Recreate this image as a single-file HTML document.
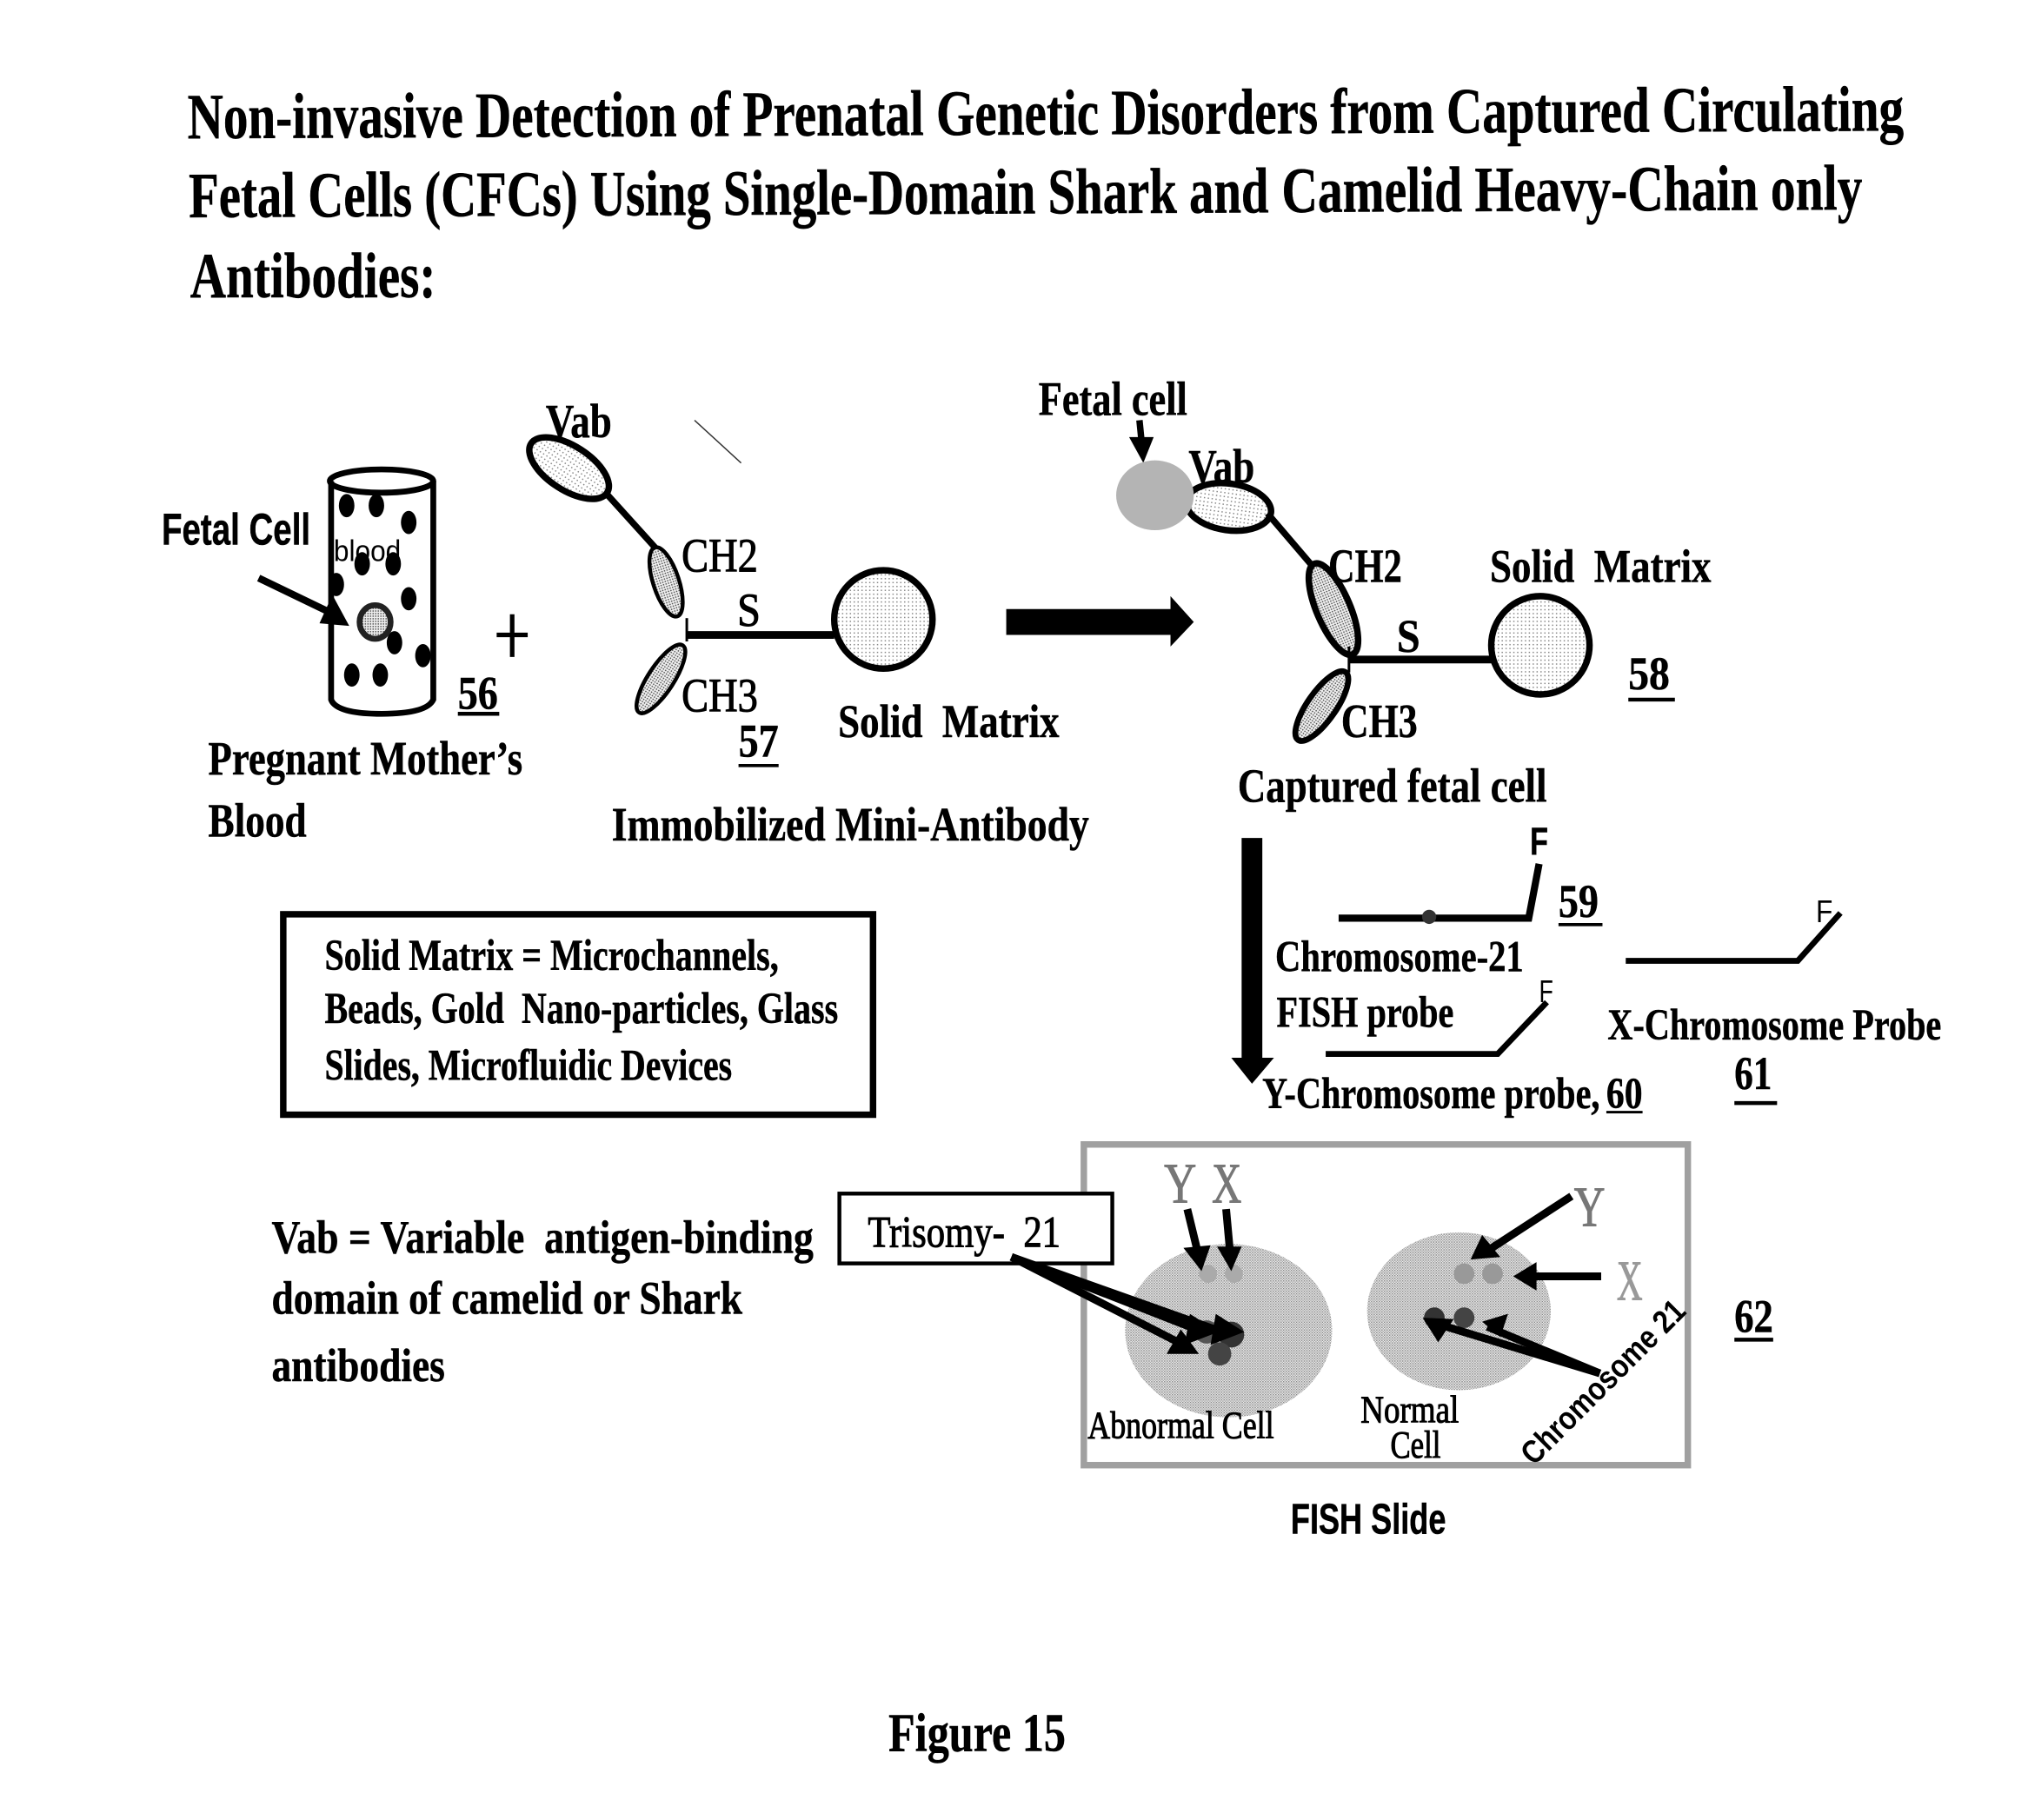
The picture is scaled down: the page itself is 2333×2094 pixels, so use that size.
<!DOCTYPE html>
<html><head><meta charset="utf-8"><style>
html,body{margin:0;padding:0;background:#fff;width:2333px;height:2094px;overflow:hidden}
svg{display:block}
text{font-family:"Liberation Serif",serif;font-weight:bold;fill:#000;stroke:#000;stroke-width:0.35px}
.s{font-family:"Liberation Sans",sans-serif;}
.r{font-weight:normal;stroke-width:0.7px}
</style></head><body>
<svg width="2333" height="2094" viewBox="0 0 1568 1407.4" xmlns="http://www.w3.org/2000/svg">
<defs>
<pattern id="l" width="3" height="3" patternUnits="userSpaceOnUse"><rect width="3" height="3" fill="#fff"/><rect width="1" height="1" fill="#888"/></pattern>
<pattern id="m" width="2" height="2" patternUnits="userSpaceOnUse"><rect width="2" height="2" fill="#eee"/><rect width="1" height="1" fill="#555"/></pattern>
<pattern id="d" width="2" height="2" patternUnits="userSpaceOnUse"><rect width="2" height="2" fill="#eee"/><rect width="1" height="1" fill="#888"/><rect x="1" y="1" width="1" height="1" fill="#aaa"/></pattern>
</defs>
<rect width="1568" height="1408" fill="#fff"/>

<!-- Title -->
<text x="145" y="107" font-size="50" textLength="1327" lengthAdjust="spacingAndGlyphs" transform="rotate(-0.26 145 107)">Non-invasive Detection of Prenatal Genetic Disorders from Captured Circulating</text>
<text x="146" y="168" font-size="50" textLength="835" lengthAdjust="spacingAndGlyphs" transform="rotate(-0.26 146 168)">Fetal Cells (CFCs) Using Single-Domain Shark and</text>
<text x="991" y="164" font-size="50" textLength="449" lengthAdjust="spacingAndGlyphs" transform="rotate(-0.26 991 164)">Camelid Heavy-Chain only</text>
<text x="147" y="230" font-size="50" textLength="190" lengthAdjust="spacingAndGlyphs">Antibodies:</text>

<!-- Blood cylinder -->
<g stroke="#000" stroke-width="4.5" fill="none">
<ellipse cx="295" cy="372" rx="40" ry="9"/>
<path d="M256 372V541Q260 552 295 552T335 541V372"/>
</g>
<g fill="#000">
<ellipse cx="268" cy="391" rx="6" ry="9"/><ellipse cx="291" cy="391" rx="6" ry="9"/><ellipse cx="316" cy="404" rx="6" ry="9"/>
<ellipse cx="280" cy="436" rx="6" ry="9"/><ellipse cx="304" cy="436" rx="6" ry="9"/><ellipse cx="260" cy="452" rx="6" ry="9"/>
<ellipse cx="316" cy="463" rx="6" ry="9"/><ellipse cx="305" cy="497" rx="6" ry="9"/><ellipse cx="327" cy="507" rx="6" ry="9"/>
<ellipse cx="272" cy="522" rx="6" ry="9"/><ellipse cx="294" cy="522" rx="6" ry="9"/>
</g>
<ellipse cx="290" cy="481" rx="12" ry="13" fill="url(#m)" stroke="#222" stroke-width="4.5"/>
<line x1="200" y1="447" x2="254" y2="473" stroke="#000" stroke-width="5.5"/>
<polygon points="270,484 247,482 257,460" fill="#000"/>
<text class="s" x="125" y="421" font-size="34" textLength="115" lengthAdjust="spacingAndGlyphs">Fetal Cell</text>
<text class="s r" style="stroke-width:0" x="258" y="434" font-size="23" textLength="52" lengthAdjust="spacingAndGlyphs">blood</text>
<text x="354" y="548" font-size="36" textLength="31" lengthAdjust="spacingAndGlyphs">56</text>
<line x1="354" y1="552" x2="386" y2="552" stroke="#000" stroke-width="3"/>
<path d="M384 491H408M396 475V508" stroke="#000" stroke-width="3.5" fill="none"/>
<text x="161" y="599" font-size="37" textLength="243" lengthAdjust="spacingAndGlyphs">Pregnant Mother’s</text>
<text x="161" y="647" font-size="37" textLength="76" lengthAdjust="spacingAndGlyphs">Blood</text>

<!-- Mini antibody -->
<line x1="537" y1="325" x2="573" y2="358" stroke="#333" stroke-width="1"/>
<ellipse cx="440" cy="362" rx="35" ry="17" transform="rotate(33 440 362)" fill="url(#l)" stroke="#000" stroke-width="5"/>
<line x1="470" y1="383" x2="508" y2="425" stroke="#000" stroke-width="5"/>
<ellipse cx="515" cy="450" rx="28" ry="10" transform="rotate(72 515 450)" fill="url(#m)" stroke="#000" stroke-width="3"/>
<ellipse cx="511" cy="525" rx="31" ry="10" transform="rotate(-57 511 525)" fill="url(#m)" stroke="#000" stroke-width="3"/>
<line x1="531" y1="478" x2="531" y2="496" stroke="#000" stroke-width="2"/>
<line x1="531" y1="491" x2="645" y2="491" stroke="#000" stroke-width="6"/>
<circle cx="683" cy="479" r="38" fill="url(#l)" stroke="#000" stroke-width="5"/>
<text x="422" y="338" font-size="37" textLength="51" lengthAdjust="spacingAndGlyphs">Vab</text>
<text x="527" y="442" font-size="37" class="r" textLength="59" lengthAdjust="spacingAndGlyphs">CH2</text>
<text x="570" y="484" font-size="36" class="r" textLength="18" lengthAdjust="spacingAndGlyphs">S</text>
<text x="527" y="550" font-size="37" class="r" textLength="59" lengthAdjust="spacingAndGlyphs">CH3</text>
<text x="571" y="585" font-size="36" textLength="31" lengthAdjust="spacingAndGlyphs">57</text>
<line x1="571" y1="592" x2="602" y2="592" stroke="#000" stroke-width="2.5"/>
<text x="648" y="570" font-size="36" textLength="171" lengthAdjust="spacingAndGlyphs" xml:space="preserve">Solid  Matrix</text>
<text x="473" y="650" font-size="37" textLength="369" lengthAdjust="spacingAndGlyphs">Immobilized Mini-Antibody</text>

<!-- Big right arrow -->
<polygon points="778,471 905,471 905,461 923,481 905,500 905,491 778,491" fill="#000"/>

<!-- Captured antibody -->
<text x="803" y="321" font-size="37" textLength="115" lengthAdjust="spacingAndGlyphs">Fetal cell</text>
<line x1="881" y1="325" x2="883" y2="345" stroke="#000" stroke-width="5"/>
<polygon points="873,338 892,338 884,358" fill="#000"/>
<ellipse cx="950" cy="392" rx="33" ry="18" transform="rotate(8 950 392)" fill="url(#l)" stroke="#000" stroke-width="5"/>
<ellipse cx="893" cy="383" rx="30" ry="27" fill="#b4b4b4"/>
<line x1="980" y1="397" x2="1015" y2="438" stroke="#000" stroke-width="5"/>
<ellipse cx="1031" cy="471" rx="38" ry="13" transform="rotate(67 1031 471)" fill="url(#m)" stroke="#000" stroke-width="5"/>
<ellipse cx="1022" cy="546" rx="32" ry="11" transform="rotate(-55 1022 546)" fill="url(#m)" stroke="#000" stroke-width="4.5"/>
<line x1="1043" y1="500" x2="1043" y2="520" stroke="#000" stroke-width="2"/>
<line x1="1043" y1="510" x2="1155" y2="510" stroke="#000" stroke-width="6"/>
<circle cx="1191" cy="499" r="38" fill="url(#l)" stroke="#000" stroke-width="5"/>
<text x="919" y="373" font-size="37" textLength="51" lengthAdjust="spacingAndGlyphs">Vab</text>
<text x="1027" y="450" font-size="37" textLength="57" lengthAdjust="spacingAndGlyphs">CH2</text>
<text x="1080" y="504" font-size="36" textLength="18" lengthAdjust="spacingAndGlyphs">S</text>
<text x="1152" y="450" font-size="36" textLength="171" lengthAdjust="spacingAndGlyphs" xml:space="preserve">Solid  Matrix</text>
<text x="1259" y="533" font-size="36" textLength="32" lengthAdjust="spacingAndGlyphs">58</text>
<line x1="1259" y1="541" x2="1295" y2="541" stroke="#000" stroke-width="3"/>
<text x="1037" y="570" font-size="37" textLength="59" lengthAdjust="spacingAndGlyphs">CH3</text>
<text x="957" y="620" font-size="37" textLength="239" lengthAdjust="spacingAndGlyphs">Captured fetal cell</text>

<!-- Down arrow -->
<polygon points="960,648 976,648 976,818 985,818 968,838 952,818 960,818" fill="#000"/>

<!-- Probes -->
<path d="M1035 710H1182L1190 668" fill="none" stroke="#000" stroke-width="5.5"/>
<circle cx="1105" cy="709" r="5.5" fill="#333"/>
<text x="1183" y="661" font-size="30" class="s" textLength="14" lengthAdjust="spacingAndGlyphs">F</text>
<text x="1205" y="709" font-size="36" textLength="31" lengthAdjust="spacingAndGlyphs">59</text>
<line x1="1205" y1="715" x2="1239" y2="715" stroke="#000" stroke-width="2.5"/>
<text x="986" y="751" font-size="34" textLength="192" lengthAdjust="spacingAndGlyphs">Chromosome-21</text>
<text x="987" y="794" font-size="34" textLength="137" lengthAdjust="spacingAndGlyphs">FISH probe</text>
<path d="M1025 815H1158L1196 775" fill="none" stroke="#000" stroke-width="4.5"/>
<text x="1190" y="775" font-size="24" class="s r" style="stroke-width:0" textLength="11" lengthAdjust="spacingAndGlyphs">F</text>
<path d="M1257 743H1390L1423 706" fill="none" stroke="#000" stroke-width="4.5"/>
<text x="1404" y="713" font-size="24" class="s r" style="stroke-width:0" textLength="13" lengthAdjust="spacingAndGlyphs">F</text>
<text x="1243" y="804" font-size="34" textLength="258" lengthAdjust="spacingAndGlyphs">X-Chromosome Probe</text>
<text x="1341" y="842" font-size="36" textLength="29" lengthAdjust="spacingAndGlyphs">61</text>
<line x1="1341" y1="853" x2="1374" y2="853" stroke="#000" stroke-width="3"/>
<text x="976" y="857" font-size="34" textLength="261" lengthAdjust="spacingAndGlyphs">Y-Chromosome probe,</text>
<text x="1242" y="857" font-size="34" textLength="28" lengthAdjust="spacingAndGlyphs">60</text>
<line x1="1242" y1="860" x2="1270" y2="860" stroke="#000" stroke-width="2"/>

<!-- Solid matrix box -->
<rect x="219" y="707" width="456" height="155" fill="none" stroke="#000" stroke-width="5"/>
<text x="251" y="750" font-size="34" textLength="351" lengthAdjust="spacingAndGlyphs">Solid Matrix = Microchannels,</text>
<text x="251" y="791" font-size="34" textLength="397" lengthAdjust="spacingAndGlyphs" xml:space="preserve">Beads, Gold  Nano-particles, Glass</text>
<text x="251" y="835" font-size="34" textLength="315" lengthAdjust="spacingAndGlyphs">Slides, Microfluidic Devices</text>

<!-- Vab definition -->
<text x="210" y="969" font-size="36" textLength="419" lengthAdjust="spacingAndGlyphs" xml:space="preserve">Vab = Variable  antigen-binding</text>
<text x="210" y="1016" font-size="36" textLength="364" lengthAdjust="spacingAndGlyphs">domain of camelid or Shark</text>
<text x="210" y="1068" font-size="36" textLength="134" lengthAdjust="spacingAndGlyphs">antibodies</text>

<!-- FISH slide -->
<rect x="838" y="885" width="467" height="248" fill="none" stroke="#a0a0a0" stroke-width="5"/>
<ellipse cx="950" cy="1029" rx="80" ry="67" fill="url(#d)"/>
<ellipse cx="1128" cy="1014" rx="71" ry="61" fill="url(#d)"/>
<circle cx="934" cy="985" r="7" fill="#aaa"/><circle cx="954" cy="985" r="7" fill="#aaa"/>
<circle cx="1132" cy="985" r="8" fill="#999"/><circle cx="1154" cy="985" r="8" fill="#999"/>
<circle cx="952" cy="1032" r="10" fill="#333"/><circle cx="933" cy="1030" r="9" fill="#555"/><circle cx="943" cy="1047" r="9" fill="#444"/>
<circle cx="1109" cy="1019" r="8" fill="#333"/><circle cx="1132" cy="1019" r="8" fill="#444"/>

<rect x="649" y="923" width="211" height="54" fill="#fff" stroke="#000" stroke-width="3"/>
<text x="671" y="964" font-size="34" class="r" textLength="149" lengthAdjust="spacingAndGlyphs" xml:space="preserve">Trisomy-  21</text>

<!-- Arrows -->
<g stroke="#000" stroke-width="6" fill="none">
<line x1="782" y1="972" x2="945" y2="1030"/>
<line x1="782" y1="972" x2="925" y2="1028"/>
<line x1="782" y1="972" x2="915" y2="1040"/>
<line x1="918" y1="935" x2="926" y2="968"/>
<line x1="948" y1="935" x2="951" y2="968"/>
<line x1="1215" y1="925" x2="1152" y2="966"/>
<line x1="1238" y1="987" x2="1185" y2="987"/>
<line x1="1237" y1="1062" x2="1112" y2="1024"/>
<line x1="1237" y1="1062" x2="1150" y2="1026"/>
</g>
<g fill="#000">
<polygon points="962,1030 936,1040 940,1016"/>
<polygon points="942,1030 916,1040 920,1016"/>
<polygon points="927,1047 902,1047 913,1028"/>
<polygon points="929,983 915,965 936,963"/>
<polygon points="952,983 941,964 960,964"/>
<polygon points="1137,974 1146,955 1160,972"/>
<polygon points="1170,987 1188,976 1188,998"/>
<polygon points="1100,1019 1124,1020 1112,1038"/>
<polygon points="1146,1022 1166,1016 1160,1034"/>
</g>
<text x="900" y="930" font-size="44" class="r" style="fill:#777;stroke:#777" textLength="25" lengthAdjust="spacingAndGlyphs">Y</text>
<text x="937" y="930" font-size="44" class="r" style="fill:#777;stroke:#777" textLength="23" lengthAdjust="spacingAndGlyphs">X</text>
<text x="1217" y="948" font-size="44" class="r" style="fill:#777;stroke:#777" textLength="24" lengthAdjust="spacingAndGlyphs">Y</text>
<text x="1250" y="1005" font-size="44" class="r" style="fill:#999;stroke:#999" textLength="20" lengthAdjust="spacingAndGlyphs">X</text>
<text class="s" x="1186" y="1134" font-size="25" textLength="168" lengthAdjust="spacingAndGlyphs" transform="rotate(-45 1186 1134)" style="stroke-width:0">Chromosome 21</text>
<text x="1341" y="1030" font-size="36" textLength="30" lengthAdjust="spacingAndGlyphs">62</text>
<line x1="1341" y1="1036" x2="1371" y2="1036" stroke="#000" stroke-width="3"/>
<text x="841" y="1112" font-size="30" class="r" textLength="144" lengthAdjust="spacingAndGlyphs">Abnormal Cell</text>
<text x="1052" y="1100" font-size="30" class="r" textLength="76" lengthAdjust="spacingAndGlyphs">Normal</text>
<text x="1075" y="1127" font-size="30" class="r" textLength="39" lengthAdjust="spacingAndGlyphs">Cell</text>
<text class="s" x="998" y="1186" font-size="33" textLength="120" lengthAdjust="spacingAndGlyphs">FISH Slide</text>
<text x="687" y="1354" font-size="42" textLength="137" lengthAdjust="spacingAndGlyphs">Figure 15</text>
</svg>
</body></html>
